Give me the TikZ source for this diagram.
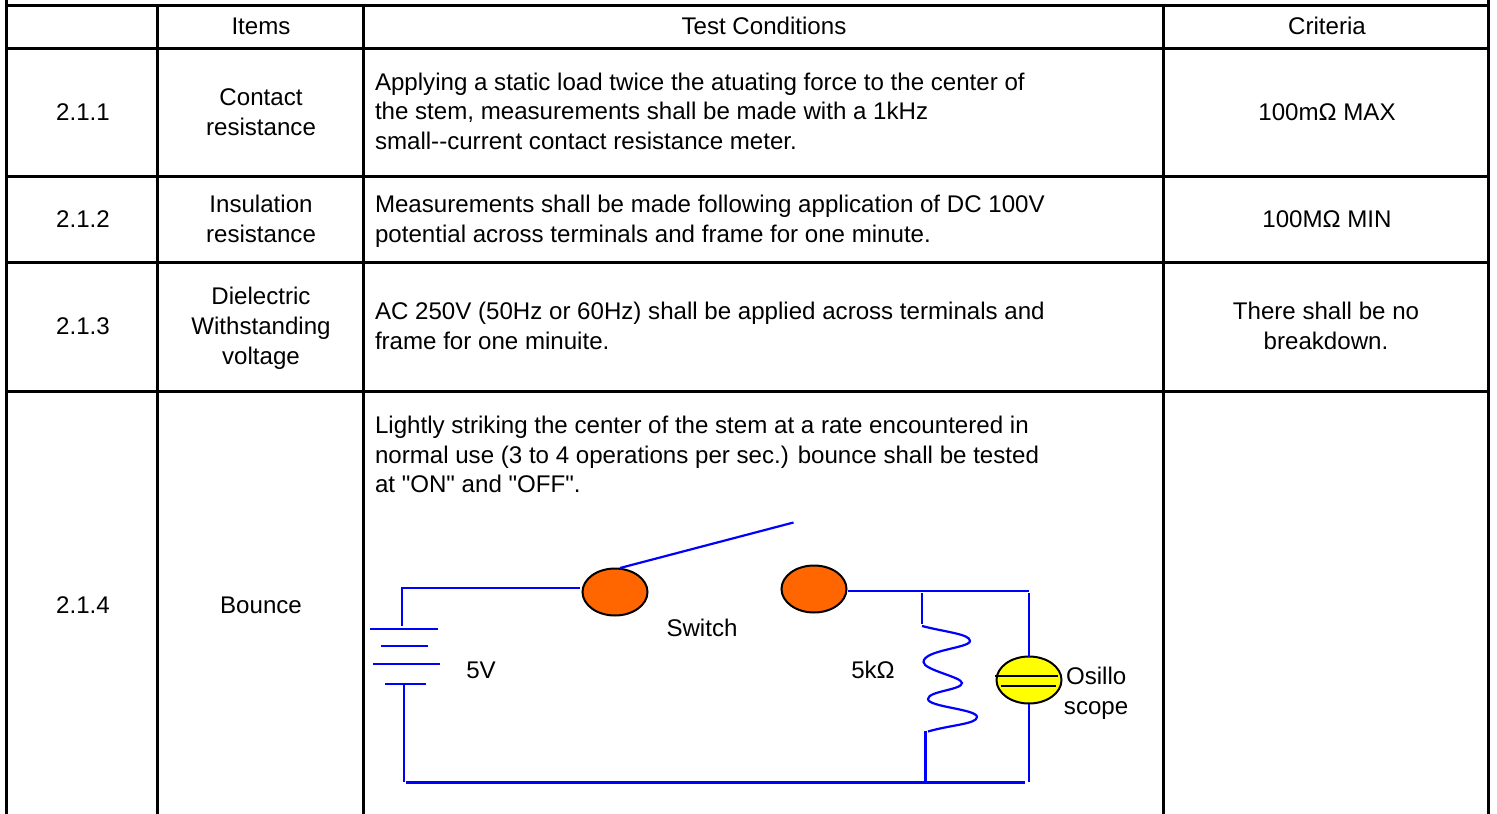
\documentclass[tikz,border=0pt]{standalone}
\usepackage{fontspec}
\newfontfamily\cellfont{Liberation Sans}
\usetikzlibrary{positioning, shapes.geometric}
\usepackage{xcolor}
\definecolor{padorange}{RGB}{255,102,0}
\definecolor{scopeyellow}{RGB}{255,255,0}

\begin{document}
\begin{tikzpicture}[%
    x=1pt, y=-1pt,
    every node/.style={%
      font=\cellfont\fontsize{24.1}{30}\selectfont,
      text=black,
      inner sep=0pt,
      outer sep=0pt,
      anchor=base
    },
    rule/.style={draw=black,line width=3pt},
    wire/.style={draw=blue,line width=2.2pt},
    busline/.style={draw=blue,line width=3pt},
    pad/.style={ellipse,draw=black,line width=2pt,fill=padorange,
      minimum width=65pt,minimum height=47pt},
    meter/.style={ellipse,draw=black,line width=2pt,fill=scopeyellow,
      minimum width=65pt,minimum height=47pt},
    trace/.style={draw=black,line width=2pt}
  ]
  \useasboundingbox (0,0) rectangle (1497,814);

  % Table rules
  \draw[rule] (6.5,5) -- (1488,5);
  \draw[rule] (6.5,48) -- (1488,48);
  \draw[rule] (6.5,176.5) -- (1488,176.5);
  \draw[rule] (6.5,262.5) -- (1488,262.5);
  \draw[rule] (6.5,391) -- (1488,391);
  \draw[rule] (6.5,0) -- (6.5,814);
  \draw[rule] (157,5) -- (157,814);
  \draw[rule] (363.5,5) -- (363.5,814);
  \draw[rule] (1163.5,5) -- (1163.5,814);
  \draw[rule] (1488,0) -- (1488,814);

  % Header
  \node (h1) at (261,34) {Items};
  \node (h2) at (764,34) {Test Conditions};
  \node (h3) at (1327,34) {Criteria};

  % Numbers
  \node (n1) at (83,120) {2.1.1};
  \node (n2) at (83,227) {2.1.2};
  \node (n3) at (83,334) {2.1.3};
  \node (n4) at (83,613) {2.1.4};

  % Items
  \node (i1) at (261,105) {Contact};
  \node[below=30pt of i1.base, anchor=base] (i2) {resistance};
  \node (i3) at (261,212) {Insulation};
  \node[below=30pt of i3.base, anchor=base] (i4) {resistance};
  \node (i5) at (261,304) {Dielectric};
  \node[below=30pt of i5.base, anchor=base] (i6) {Withstanding};
  \node[below=30pt of i6.base, anchor=base] (i7) {voltage};
  \node (i8) at (261,613) {Bounce};

  % Test conditions
  \node[anchor=base west] (t1) at (375,90)
    {Applying a static load twice the atuating force to the center of};
  \node[below=29.5pt of t1.base west, anchor=base west] (t2)
    {the stem, measurements shall be made with a 1kHz};
  \node[below=29.5pt of t2.base west, anchor=base west] (t3)
    {small--current contact resistance meter.};
  \node[anchor=base west] (t4) at (375,212)
    {Measurements shall be made following application of DC 100V};
  \node[below=30pt of t4.base west, anchor=base west] (t5)
    {potential across terminals and frame for one minute.};
  \node[anchor=base west] (t6) at (375,319)
    {AC 250V (50Hz or 60Hz) shall be applied across terminals and};
  \node[below=30pt of t6.base west, anchor=base west] (t7)
    {frame for one minuite.};
  \node[anchor=base west] (t8) at (375,433)
    {Lightly striking the center of the stem at a rate encountered in};
  \node[below=30pt of t8.base west, anchor=base west] (t9)
    {normal use (3 to 4 operations per sec.) bounce shall be tested};
  \node[below=29.5pt of t9.base west, anchor=base west] (t10)
    {at "ON" and "OFF".};

  % Criteria
  \node (c1) at (1327,120) {100mΩ MAX};
  \node (c2) at (1327,227) {100MΩ MIN};
  \node (c3) at (1326,319) {There shall be no};
  \node[below=30pt of c3.base, anchor=base] (c4) {breakdown.};

  % Circuit parts
  \node[pad, anchor=center] (sw1) at (615,592) {};
  \node[pad, anchor=center] (sw2) at (814,589) {};
  \node[meter, anchor=center] (osc) at (1029,680) {};

  \node (swl) at (702,636) {Switch};
  \node (vl) at (481,678) {5V};
  \node (rl) at (873,678) {5kΩ};
  \node[anchor=base west] (ol1) at (1066,684) {Osillo};
  \node[below=30pt of ol1.base, anchor=base] (ol2) {scope};

  \coordinate (bat1) at (402,588);
  \coordinate (bat2) at (402,626);
  \coordinate (bat3) at (404,684);
  \coordinate (bat4) at (404,782);
  \coordinate (in1) at (580,588);
  \coordinate (lev1) at (620,568);
  \coordinate (lev2) at (793.5,522.5);
  \coordinate (out1) at (847.5,591);
  \coordinate (out2) at (1029,591);
  \coordinate (rtop1) at (922,593);
  \coordinate (rtop2) at (922,623.5);
  \coordinate (rbot1) at (925.5,731);
  \coordinate (rbot2) at (925.5,782);
  \coordinate (otop) at (1029,593);
  \coordinate (obot) at (1029,782);
  \coordinate (bus1) at (406,782.5);
  \coordinate (bus2) at (1025,782.5);

  % Wires
  \draw[wire] (in1) -- (bat1) -- (bat2);
  \draw[wire] (lev1) -- (lev2);
  \draw[wire] (out1) -- (out2);
  \draw[wire] (rtop1) -- (rtop2);
  \draw[wire] (rbot1) -- (rbot2);
  \draw[wire] (otop) -- (osc.north);
  \draw[wire] (osc.south) -- (obot);
  \draw[wire] (bat3) -- (bat4);
  \draw[busline] (bus1) -- (bus2);

  % Battery plates
  \draw[wire] (370,628.7) -- (438,628.7);
  \draw[wire] (381,645.7) -- (428,645.7);
  \draw[wire] (373,663.7) -- (440,663.7);
  \draw[wire] (385,683.7) -- (426,683.7);

  % Resistor
  \draw[wire] (922,626)
    .. controls (945,632) and (970,634) .. (970,641)
    .. controls (970,648) and (923.5,650) .. (923.5,662)
    .. controls (923.5,670) and (962,677) .. (962,683)
    .. controls (962,690) and (928,691) .. (928,699)
    .. controls (928,707) and (977,709) .. (977,717)
    .. controls (977,724) and (950,725) .. (928,731.5);

  % Scope traces
  \draw[trace] (995,675.7) -- (1057.7,675.7);
  \draw[trace] (1001,685.7) -- (1055.7,685.7);

\end{tikzpicture}
\end{document}
